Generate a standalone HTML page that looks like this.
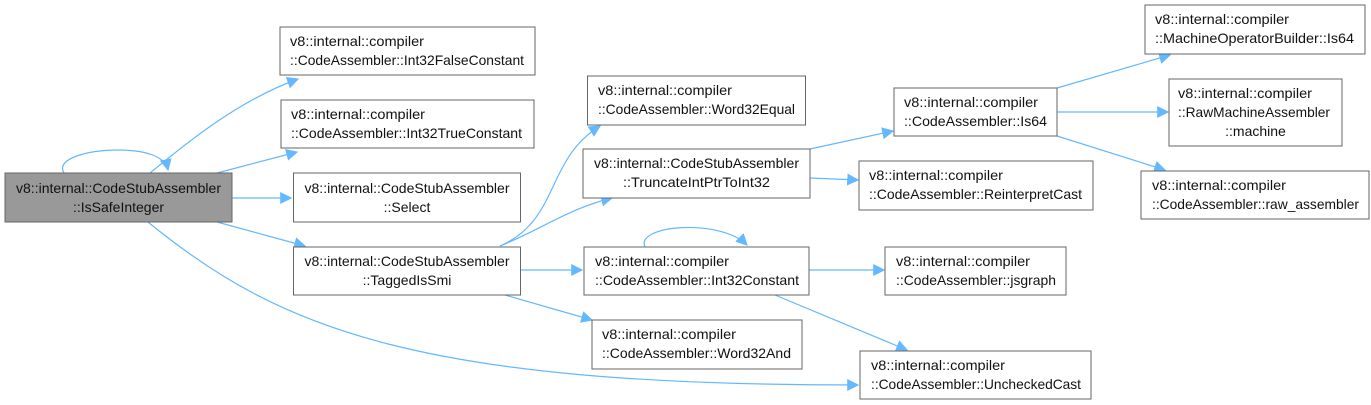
<!DOCTYPE html>
<html><head><meta charset="utf-8"><style>
html,body{margin:0;padding:0;background:#fff;}
svg{display:block;font-family:"Liberation Sans",sans-serif;font-size:14px;}
.b{fill:#fff;stroke:#666;stroke-width:1;}
.g{fill:#999;stroke:#666;stroke-width:1;}
.e{fill:none;stroke:#63b8ff;stroke-width:1.2;}
text{fill:#111;}
</style></head><body>
<svg width="1371" height="405" viewBox="0 0 1371 405">
<defs><marker id="a" viewBox="0 0 10 10" refX="9" refY="5" markerWidth="12" markerHeight="12" markerUnits="userSpaceOnUse" orient="auto"><path d="M0,0 L10,5 L0,10 z" fill="#63b8ff"/></marker></defs>
<g class="e" marker-end="url(#a)">
<path d="M64,173 C55,158 90,150 118,150 C145,150 165,156 168,170"/>
<path d="M150,173 C190,140 240,100 298,79"/>
<path d="M217,173 L297,152"/>
<path d="M232,198 L291,198"/>
<path d="M217,222 L305,246"/>
<path d="M148,222 C280,330 420,385 858,385"/>
<path d="M500,246 C560,220 545,160 600,126"/>
<path d="M500,246 C540,230 570,208 612,198"/>
<path d="M520,270 L582,270"/>
<path d="M505,295 L592,320"/>
<path d="M810,149 L893,131"/>
<path d="M810,178 L858,180"/>
<path d="M645,247 C635,225 720,218 747,245"/>
<path d="M809,270 L884,270"/>
<path d="M775,295 L907,350"/>
<path d="M1057,88 L1170,55"/>
<path d="M1057,112 L1168,112"/>
<path d="M1057,136 L1165,170"/>
</g>
<rect class="g" x="5" y="173" width="227" height="49"/>
<text x="118.5" y="193" text-anchor="middle" textLength="205" lengthAdjust="spacingAndGlyphs">v8::internal::CodeStubAssembler</text>
<text x="118.5" y="212" text-anchor="middle">::IsSafeInteger</text>

<rect class="b" x="280" y="27" width="255" height="48"/>
<text x="290" y="46" textLength="134" lengthAdjust="spacingAndGlyphs">v8::internal::compiler</text>
<text x="290" y="65" textLength="234" lengthAdjust="spacingAndGlyphs">::CodeAssembler::Int32FalseConstant</text>

<rect class="b" x="281" y="100" width="253" height="48"/>
<text x="291" y="119" textLength="134" lengthAdjust="spacingAndGlyphs">v8::internal::compiler</text>
<text x="291" y="138" textLength="231" lengthAdjust="spacingAndGlyphs">::CodeAssembler::Int32TrueConstant</text>

<rect class="b" x="293.5" y="173" width="227" height="49"/>
<text x="407" y="193" text-anchor="middle" textLength="205" lengthAdjust="spacingAndGlyphs">v8::internal::CodeStubAssembler</text>
<text x="407" y="212" text-anchor="middle">::Select</text>

<rect class="b" x="293.5" y="247" width="227" height="48"/>
<text x="407" y="266" text-anchor="middle" textLength="205" lengthAdjust="spacingAndGlyphs">v8::internal::CodeStubAssembler</text>
<text x="407" y="285" text-anchor="middle">::TaggedIsSmi</text>

<rect class="b" x="587.5" y="76" width="218" height="49"/>
<text x="598" y="95" textLength="134" lengthAdjust="spacingAndGlyphs">v8::internal::compiler</text>
<text x="598" y="114" textLength="197" lengthAdjust="spacingAndGlyphs">::CodeAssembler::Word32Equal</text>

<rect class="b" x="583" y="149" width="227" height="49"/>
<text x="696.5" y="168" text-anchor="middle" textLength="205" lengthAdjust="spacingAndGlyphs">v8::internal::CodeStubAssembler</text>
<text x="696.5" y="187" text-anchor="middle" textLength="147" lengthAdjust="spacingAndGlyphs">::TruncateIntPtrToInt32</text>

<rect class="b" x="584" y="247" width="225" height="48"/>
<text x="595" y="266" textLength="134" lengthAdjust="spacingAndGlyphs">v8::internal::compiler</text>
<text x="595" y="285" textLength="204" lengthAdjust="spacingAndGlyphs">::CodeAssembler::Int32Constant</text>

<rect class="b" x="592" y="320" width="210" height="49"/>
<text x="602" y="339" textLength="134" lengthAdjust="spacingAndGlyphs">v8::internal::compiler</text>
<text x="602" y="358" textLength="189" lengthAdjust="spacingAndGlyphs">::CodeAssembler::Word32And</text>

<rect class="b" x="894" y="88" width="163" height="48"/>
<text x="904" y="107" textLength="134" lengthAdjust="spacingAndGlyphs">v8::internal::compiler</text>
<text x="904" y="126" textLength="143" lengthAdjust="spacingAndGlyphs">::CodeAssembler::Is64</text>

<rect class="b" x="859" y="161" width="234" height="49"/>
<text x="869" y="180" textLength="134" lengthAdjust="spacingAndGlyphs">v8::internal::compiler</text>
<text x="869" y="199" textLength="213" lengthAdjust="spacingAndGlyphs">::CodeAssembler::ReinterpretCast</text>

<rect class="b" x="885" y="247" width="181" height="48"/>
<text x="896" y="266" textLength="134" lengthAdjust="spacingAndGlyphs">v8::internal::compiler</text>
<text x="896" y="285" textLength="160" lengthAdjust="spacingAndGlyphs">::CodeAssembler::jsgraph</text>

<rect class="b" x="860" y="351" width="231" height="48"/>
<text x="871" y="370" textLength="134" lengthAdjust="spacingAndGlyphs">v8::internal::compiler</text>
<text x="871" y="389" textLength="210" lengthAdjust="spacingAndGlyphs">::CodeAssembler::UncheckedCast</text>

<rect class="b" x="1145" y="5" width="220" height="49"/>
<text x="1155" y="24" textLength="134" lengthAdjust="spacingAndGlyphs">v8::internal::compiler</text>
<text x="1155" y="43" textLength="199" lengthAdjust="spacingAndGlyphs">::MachineOperatorBuilder::Is64</text>

<rect class="b" x="1169" y="79" width="173" height="67"/>
<text x="1178" y="98" textLength="134" lengthAdjust="spacingAndGlyphs">v8::internal::compiler</text>
<text x="1178" y="117" textLength="152" lengthAdjust="spacingAndGlyphs">::RawMachineAssembler</text>
<text x="1255.5" y="136" text-anchor="middle">::machine</text>

<rect class="b" x="1141" y="171" width="228" height="48"/>
<text x="1152" y="190" textLength="134" lengthAdjust="spacingAndGlyphs">v8::internal::compiler</text>
<text x="1152" y="209" textLength="207" lengthAdjust="spacingAndGlyphs">::CodeAssembler::raw_assembler</text>
</svg>
</body></html>
